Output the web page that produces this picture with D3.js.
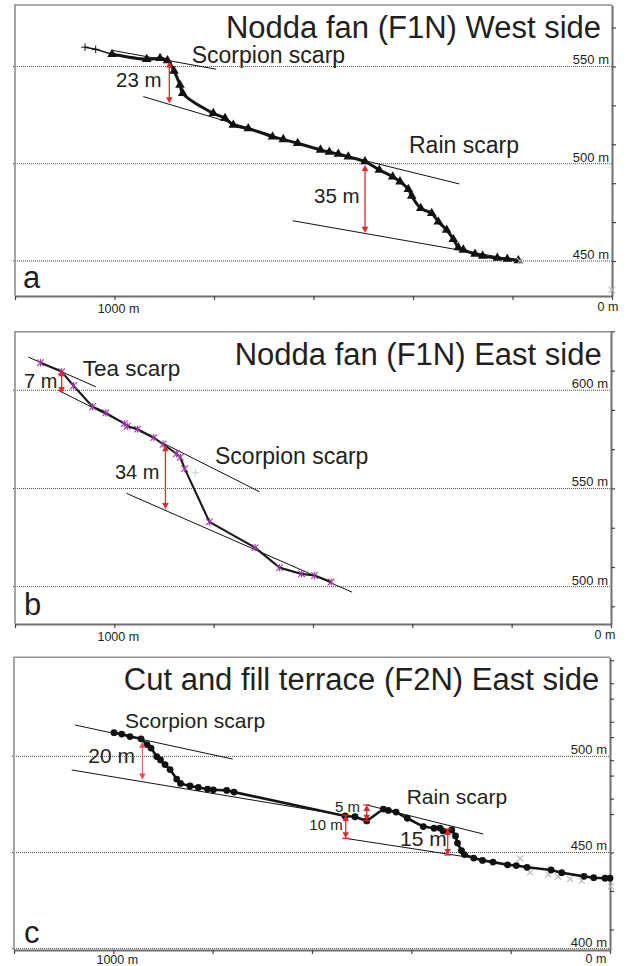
<!DOCTYPE html>
<html><head><meta charset="utf-8">
<script src="https://cdn.jsdelivr.net/npm/d3@7"></script>
<style>
body{margin:0;background:#fff}
svg{display:block}
text{font-family:"Liberation Sans",Arial,Helvetica,sans-serif;fill:#231f20}
</style>
</head><body>
<svg id="chart" width="627" height="966"></svg>
<script>
// ---------------- DATA (distance from fan toe in m, elevation in m) ----------------
const xTicks = [0, 200, 400, 600, 800, 1000, 1200];
const xLabelValues = [1000, 0];

// Panel a : Nodda fan (F1N) West side
const aGrid = [550, 500, 450];
const aYTicks = [450, 470, 490, 510, 530, 550, 570];
const aPlus = [[1059.3, 559.9], [1037.8, 558.8]];
const aProfile = [
  [1005, 556.3], [935.3, 553.7], [908.5, 554.2], [893.5, 553.1], [880.4, 547.7], [868.3, 540.5],
  [862.9, 536.2], [801.4, 525.9], [777.9, 523.4], [761.2, 519.9], [731.1, 518.1], [682.4, 513.9],
  [660.7, 512.5], [631.8, 510.5], [585.9, 507.1], [568.2, 506.0], [550.2, 505.0], [530.1, 503.6],
  [496.5, 501.1], [467.7, 496.8], [440.8, 493.3], [426.1, 490.8], [409.4, 486.9], [402.6, 483.4],
  [384.5, 477.1], [362.4, 474.5], [349.1, 470.2], [332.3, 465.9], [319.0, 461.2], [308.9, 457.0],
  [298.9, 455.7], [275.4, 453.6], [259.9, 452.6], [230.5, 451.5], [210.5, 451.0], [188.3, 450.2]
];
const aCross = [[184.9, 450.0], [0.5, 435.1]];
const aFits = [
  [[1003, 558.2], [796, 548.6]],
  [[942.1, 534.5], [683.4, 514.8]],
  [[566.8, 506.0], [306.9, 489.6]],
  [[641.8, 470.7], [195, 450.6]]
];
const aArrows = [[889.8, 552.5, 531.1], [496.5, 499.4, 464.5]];

// Panel b : Nodda fan (F1N) East side
const bGrid = [600, 550, 500];
const bYTicks = [490, 510, 530, 550, 570, 590, 610, 630];
const bProfile = [
  [1148.7, 614.0], [1106.1, 609.5], [1082.2, 602.3], [1043.8, 591.6], [1017.1, 588.5], [979.9, 583.0],
  [973.9, 581.7], [953.2, 580.2], [920.6, 575.9], [901.9, 572.5], [874.8, 567.7], [867.3, 565.9],
  [858.3, 560.1], [808.6, 533.0], [716.6, 519.9], [667.3, 509.7], [623.1, 506.5], [597.0, 505.7],
  [563.4, 502.4]
];
const bFaint = [[836.8, 558]];
const bFits = [
  [[1173.3, 616.9], [1036.8, 601.7]],
  [[1113, 600.0], [707.5, 548.3]],
  [[975.5, 547.5], [521.2, 497.2]]
];
const bArrows = [[1106.1, 610.2, 598.6], [897.1, 572.0, 539.5]];

// Panel c : Cut and fill terrace (F2N) East side
const cGrid = [500, 450, 400];
const cYTicks = [410, 430, 450, 470, 490, 510, 530, 550];
const cYTicksExtra = [478, 498, 518, 538];
const cProfile = [
  [998.6, 512.3], [983.1, 511.6], [966.4, 510.3], [944.2, 509.1], [932.2, 506.1], [924.1, 504.3],
  [912.6, 499.9], [905.0, 498.1], [895.9, 495.7], [885.8, 493.1], [872.4, 488.2], [864.7, 485.9],
  [845.6, 484.6], [828.9, 483.8], [810.4, 483.0], [798.7, 482.6], [771.7, 482.3], [757.0, 481.4],
  [533.3, 469.0], [513.4, 468.6], [489.8, 466.4], [456.4, 472.6], [446.3, 471.9], [430.8, 471.0],
  [408.1, 467.8], [375.9, 463.5], [354.3, 462.6], [342.3, 462.7], [336.2, 461.2], [318.7, 461.7],
  [311.1, 458.6], [307.0, 454.9], [299.0, 451.0], [293.0, 448.9], [274.4, 447.1], [256.7, 445.9],
  [235.6, 445.0], [206.4, 443.6], [188.6, 443.2], [167.1, 442.3], [118.8, 440.9], [97.2, 439.5],
  [52.3, 437.6], [32.8, 436.9], [10.1, 436.6], [0, 436.6]
];
const cCross = [[181.2, 447.0], [161.1, 439.7], [124.2, 438.5], [104.1, 437.4], [80.5, 436.2], [57.0, 435.3], [-2, 432.4]];
const cFits = [
  [[1077.1, 516.3], [759.6, 498.6]],
  [[1083.7, 492.9], [531.5, 469.2]],
  [[489.8, 474.7], [255.1, 459.6]],
  [[533.5, 457.4], [281.9, 447.4]]
];
const cArrowsPlain = [[941.6, 507.6, 488.0]];
const cArrowsCapped = [[532.1, 469.5, 457.4], [489.8, 474.7, 466.5], [326.8, 462.2, 448.7]];

// ---------------- DRAWING ----------------
const svg = d3.select("#chart");
const RED = "#e8232b";

function makePanel(cfg) {
  const g = svg.append("g");
  const x = d3.scaleLinear().domain([1200, 0]).range([cfg.L, cfg.R]);
  const y = d3.scaleLinear().domain(cfg.yDomain).range([cfg.B, cfg.T]);

  g.selectAll("line.grid").data(cfg.grid).join("line").attr("class", "grid")
    .attr("x1", cfg.L - 2).attr("x2", cfg.R).attr("y1", d => y(d)).attr("y2", d => y(d))
    .attr("stroke", "#333").attr("stroke-width", 0.9).attr("stroke-dasharray", "1,1");
  g.selectAll("text.gl").data(cfg.grid).join("text").attr("class", "gl")
    .attr("x", cfg.R - 3).attr("y", d => y(d) - 2).attr("text-anchor", "end")
    .attr("font-size", 13).text(d => d + " m");

  g.append("path").attr("d", `M${cfg.L},${cfg.B}V${cfg.T}H${cfg.R}`)
    .attr("fill", "none").attr("stroke", "#8e8e8e").attr("stroke-width", 1.6);

  g.append("g").attr("transform", `translate(0,${cfg.B})`)
    .call(d3.axisBottom(x).tickValues(xTicks).tickSize(4).tickSizeOuter(0).tickFormat(""))
    .call(s => {
      s.select(".domain").attr("stroke", "#707070").attr("stroke-width", 2);
      s.selectAll(".tick line").attr("stroke", "#444").attr("stroke-width", 1.2);
    });
  const yAx = g.append("g").attr("transform", `translate(${cfg.R},0)`)
    .call(d3.axisRight(y).tickValues(cfg.yTicks).tickSize(4).tickSizeOuter(0).tickFormat(""));
  if (cfg.yTicksExtra) {
    g.append("g").attr("transform", `translate(${cfg.R},0)`)
      .call(d3.axisRight(y).tickValues(cfg.yTicksExtra).tickSize(4).tickSizeOuter(0).tickFormat(""))
      .call(s => { s.select(".domain").remove(); s.selectAll(".tick line").attr("stroke", "#444").attr("stroke-width", 1.2); });
  }
  yAx.select(".domain").attr("stroke", "#707070").attr("stroke-width", 2);
  yAx.selectAll(".tick line").attr("stroke", "#444").attr("stroke-width", 1.2);

  g.append("text").attr("x", x(xLabelValues[0]) + 4).attr("y", cfg.B + cfg.kDy)
    .attr("text-anchor", "middle").attr("font-size", 12.5).text(xLabelValues[0] + " m");
  g.append("text").attr("x", x(xLabelValues[1]) + cfg.zeroDx).attr("y", cfg.B + cfg.zeroDy)
    .attr("text-anchor", "middle").attr("font-size", 12.5).text(xLabelValues[1] + " m");

  g.selectAll("line.fit").data(cfg.fits).join("line").attr("class", "fit")
    .attr("x1", d => x(d[0][0])).attr("y1", d => y(d[0][1]))
    .attr("x2", d => x(d[1][0])).attr("y2", d => y(d[1][1]))
    .attr("stroke", "#111").attr("stroke-width", 1);

  return { g, x, y };
}

function drawArrows(p, list, color, width, caps) {
  list.forEach(a => {
    const xa = p.x(a[0]), y1 = p.y(a[1]), y2 = p.y(a[2]);
    p.g.append("line").attr("x1", xa).attr("x2", xa).attr("y1", y1 + 3).attr("y2", y2 - 3)
      .attr("stroke", color).attr("stroke-width", width);
    p.g.append("path").attr("d", `M${xa},${y1}L${xa - 3.3},${y1 + 6}L${xa + 3.3},${y1 + 6}Z`).attr("fill", color);
    p.g.append("path").attr("d", `M${xa},${y2}L${xa - 3.3},${y2 - 6}L${xa + 3.3},${y2 - 6}Z`).attr("fill", color);
    if (caps) {
      [y1, y2].forEach(yy => p.g.append("line").attr("x1", xa - 3.5).attr("x2", xa + 3.5)
        .attr("y1", yy).attr("y2", yy).attr("stroke", color).attr("stroke-width", 1.3));
    }
  });
}

function texts(g, list) {
  list.forEach(t => g.append("text").attr("x", t[1]).attr("y", t[2]).attr("font-size", t[3])
    .attr("text-anchor", t[4] || "start").text(t[0]));
}

const crossPath = "M-3,-3L3,3M-3,3L3,-3";
const starPath = "M-3.3,-3.3L3.3,3.3M-3.3,3.3L3.3,-3.3M0,-3.7V3.7";
const plusPath = "M-3.8,0H3.8M0,-3.8V3.8";

// ---------- Panel a ----------
{
  const p = makePanel({ L: 15, R: 612, T: 5, B: 296, yDomain: [432.0, 581.6], grid: aGrid, yTicks: aYTicks,
    fits: aFits, zeroDx: -4, zeroDy: 15, kDy: 16.5 });
  const line = d3.line().x(d => p.x(d[0])).y(d => p.y(d[1]));
  p.g.append("path").datum(aPlus.concat([aProfile[0]])).attr("d", line)
    .attr("fill", "none").attr("stroke", "#1a1a1a").attr("stroke-width", 1.5);
  p.g.append("path").datum(aProfile).attr("d", line.curve(d3.curveCatmullRom.alpha(0.5)))
    .attr("fill", "none").attr("stroke", "#151515").attr("stroke-width", 3).attr("stroke-linejoin", "round");
  p.g.selectAll("path.tri").data(aProfile).join("path").attr("class", "tri")
    .attr("transform", d => `translate(${p.x(d[0])},${p.y(d[1])})`)
    .attr("d", d3.symbol(d3.symbolTriangle, 40)).attr("fill", "#111");
  p.g.selectAll("path.plus").data(aPlus).join("path").attr("class", "plus")
    .attr("transform", d => `translate(${p.x(d[0])},${p.y(d[1])})`)
    .attr("d", plusPath).attr("stroke", "#111").attr("stroke-width", 1);
  p.g.selectAll("path.cr").data(aCross).join("path").attr("class", "cr")
    .attr("transform", d => `translate(${p.x(d[0])},${p.y(d[1])})`)
    .attr("d", crossPath).attr("stroke", "#b5b5b5").attr("stroke-width", 1.1);
  drawArrows(p, aArrows, RED, 1.3, false);
  texts(p.g, [
    ["Nodda fan (F1N) West side", 601, 37.7, 31, "end"],
    ["Scorpion scarp", 191.7, 62.7, 23],
    ["23 m", 116, 86.7, 20.5],
    ["Rain scarp", 409, 153.3, 23],
    ["35 m", 314, 203.3, 20.5],
    ["a", 23, 288, 31]
  ]);
}

// ---------- Panel b ----------
{
  const p = makePanel({ L: 15, R: 611, T: 331.7, B: 624, yDomain: [481.0, 629.8], grid: bGrid, yTicks: bYTicks,
    fits: bFits, zeroDx: -6, zeroDy: 15.3, kDy: 16.5 });
  const line = d3.line().x(d => p.x(d[0])).y(d => p.y(d[1]));
  p.g.append("path").datum(bProfile).attr("d", line)
    .attr("fill", "none").attr("stroke", "#1a1a1a").attr("stroke-width", 2.1).attr("stroke-linejoin", "round");
  p.g.selectAll("path.st").data(bProfile).join("path").attr("class", "st")
    .attr("transform", d => `translate(${p.x(d[0])},${p.y(d[1])})`)
    .attr("d", starPath).attr("stroke", "#9b3aa8").attr("stroke-width", 1.1);
  p.g.selectAll("path.fp").data(bFaint).join("path").attr("class", "fp")
    .attr("transform", d => `translate(${p.x(d[0])},${p.y(d[1])})`)
    .attr("d", plusPath).attr("stroke", "#c5d4e6").attr("stroke-width", 1);
  drawArrows(p, bArrows, RED, 1.3, false);
  texts(p.g, [
    ["Nodda fan (F1N) East side", 601.7, 365, 31, "end"],
    ["Tea scarp", 82.7, 376, 22.5],
    ["7 m", 24, 388.3, 20],
    ["Scorpion scarp", 215, 464, 23],
    ["34 m", 115, 479.3, 20],
    ["b", 24, 615, 31]
  ]);
}

// ---------- Panel c ----------
{
  const p = makePanel({ L: 14, R: 610, T: 657.3, B: 950, yDomain: [399.3, 551.5], grid: cGrid, yTicks: cYTicks,
    yTicksExtra: cYTicksExtra, fits: cFits, zeroDx: -14, zeroDy: 13.3, kDy: 14.2 });
  const line = d3.line().x(d => p.x(d[0])).y(d => p.y(d[1]));
  p.g.selectAll("path.cr").data(cCross).join("path").attr("class", "cr")
    .attr("transform", d => `translate(${p.x(d[0])},${p.y(d[1])})`)
    .attr("d", crossPath).attr("stroke", "#b8b8b8").attr("stroke-width", 1.1);
  p.g.append("path").datum(cProfile).attr("d", line)
    .attr("fill", "none").attr("stroke", "#151515").attr("stroke-width", 2.6).attr("stroke-linejoin", "round");
  p.g.selectAll("circle.pt").data(cProfile).join("circle").attr("class", "pt")
    .attr("cx", d => p.x(d[0])).attr("cy", d => p.y(d[1])).attr("r", 3.4).attr("fill", "#111");
  drawArrows(p, cArrowsPlain, "#ef4a55", 1, false);
  drawArrows(p, cArrowsCapped, RED, 1.3, true);
  texts(p.g, [
    ["Cut and fill terrace (F2N) East side", 599.3, 690, 31, "end"],
    ["Scorpion scarp", 125, 728.3, 21],
    ["20 m", 88.3, 762.7, 21],
    ["Rain scarp", 406.7, 804, 21],
    ["5 m", 335, 812.3, 15],
    ["10 m", 309.3, 830, 15],
    ["15 m", 400, 846, 21],
    ["c", 24, 943.3, 31]
  ]);
}
</script>
</body></html>
